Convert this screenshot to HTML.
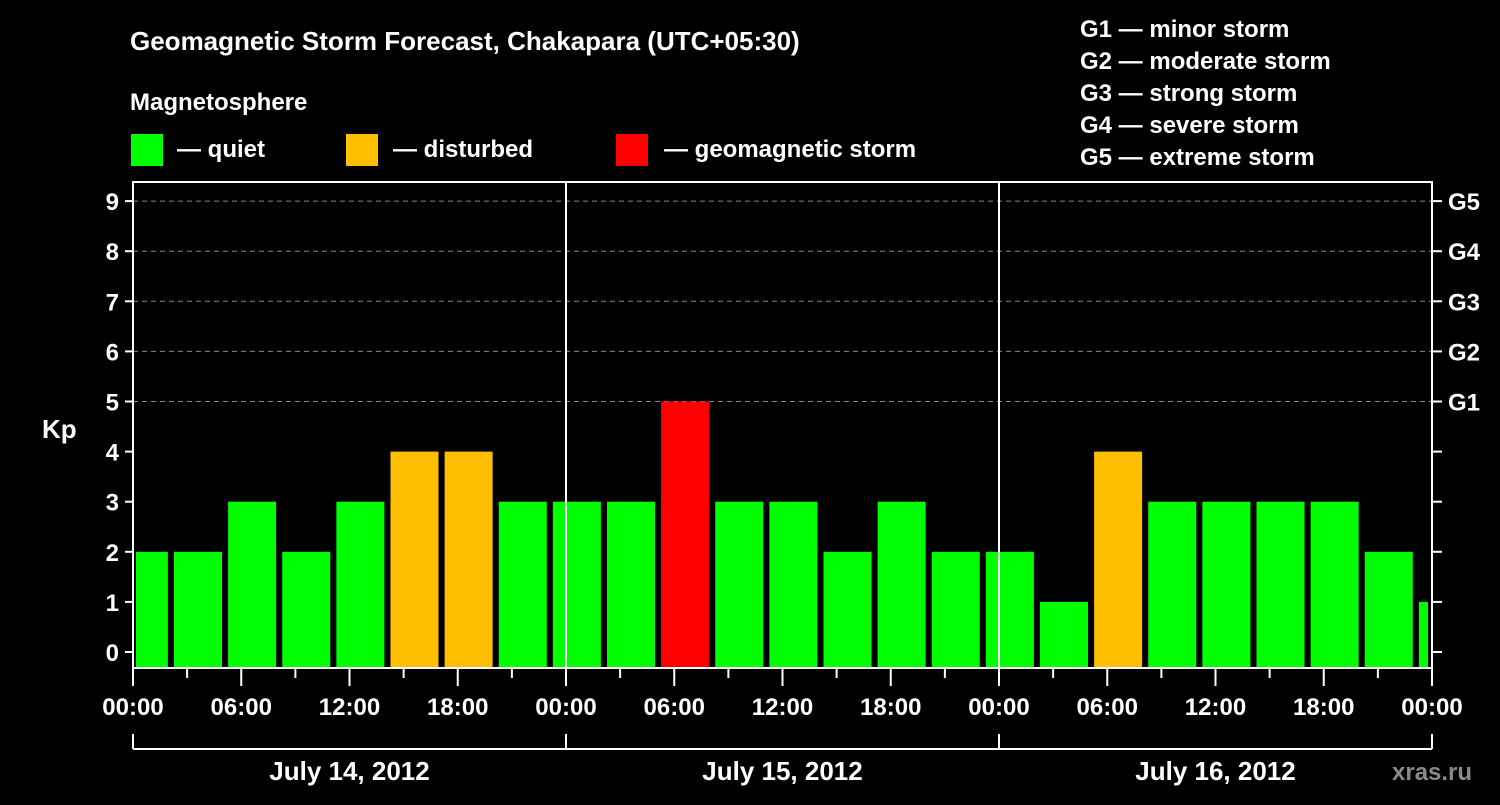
<!DOCTYPE html>
<html><head><meta charset="utf-8"><style>
html,body{margin:0;padding:0;background:#000;}
svg text{font-family:"Liberation Sans",sans-serif;font-weight:bold;fill:#fff;}
</style></head><body>
<svg width="1500" height="800" viewBox="0 0 1500 800" id="chart">
<text x="130" y="50" font-size="26">Geomagnetic Storm Forecast, Chakapara (UTC+05:30)</text>
<text x="130" y="110" font-size="24">Magnetosphere</text>
<g>
<rect x="131" y="134" width="32" height="32" fill="#00ff00"/>
<text x="177" y="157" font-size="24">— quiet</text>
<rect x="346" y="134" width="32" height="32" fill="#ffbf00"/>
<text x="393" y="157" font-size="24">— disturbed</text>
<rect x="616" y="134" width="32" height="32" fill="#ff0000"/>
<text x="664" y="157" font-size="24">— geomagnetic storm</text>
</g>
<g font-size="24">
<text x="1080" y="37">G1 — minor storm</text>
<text x="1080" y="69">G2 — moderate storm</text>
<text x="1080" y="101">G3 — strong storm</text>
<text x="1080" y="133">G4 — severe storm</text>
<text x="1080" y="165">G5 — extreme storm</text>
</g>
<text x="42" y="438" font-size="26">Kp</text>
<text x="1392" y="780" font-size="24" fill="#888" style="fill:#8a8a8a">xras.ru</text>
<g id="plot"></g>
</svg>
<script>
const kpValues=[2,2,3,2,3,4,4,3,3,3,5,3,3,2,3,2,2,1,4,3,3,3,3,2,1];
const yTicks=[0,1,2,3,4,5,6,7,8,9];
const gLabels=["G1","G2","G3","G4","G5"];
const xTickLabels=["00:00","06:00","12:00","18:00","00:00","06:00","12:00","18:00","00:00","06:00","12:00","18:00","00:00"];
const dayLabels=["July 14, 2012","July 15, 2012","July 16, 2012"];

const NS="http://www.w3.org/2000/svg";
const L=133,R=1432,T=182,B=668;
const pxH=(R-L)/72;
const xH=h=>L+h*pxH;
const yK=k=>652-k*50.1;
const g=document.getElementById('plot');
function mk(t,a){const e=document.createElementNS(NS,t);for(const k in a)e.setAttribute(k,a[k]);g.appendChild(e);return e;}
// gridlines
for(let k=5;k<=9;k++){const e=mk('line',{x1:L,x2:R,y1:yK(k),y2:yK(k),stroke:'#888','stroke-dasharray':'5,4','stroke-width':1});

}
// bars
const startH=40/pxH-3;
kpValues.forEach((v,i)=>{
 let x0=xH(startH+3*i)+1,x1=x0+48;
 x0=Math.max(x0,L+3);x1=Math.min(x1,R-4);
 const col=v>=5?'#ff0000':(v>=4?'#ffbf00':'#00ff00');
 const e=mk('rect',{x:x0,y:yK(v),width:x1-x0,height:B-yK(v),fill:col});
 
 
});
// day separators
[1,2].forEach(d=>{const e=mk('line',{x1:xH(24*d),x2:xH(24*d),y1:T,y2:B,stroke:'#fff','stroke-width':2});

});
// frame
const f=mk('rect',{x:L,y:T,width:R-L,height:B-T,fill:'none',stroke:'#fff','stroke-width':2});


// y ticks
yTicks.forEach(k=>{
 const y=yK(k);
 const a=mk('line',{x1:L-8,x2:L,y1:y,y2:y,stroke:'#fff','stroke-width':2});
 
 
 const b=mk('line',{x1:R,x2:R+10,y1:y,y2:y,stroke:'#fff','stroke-width':2});
 
 
 const t=mk('text',{x:L-14,y:y+9,'font-size':24,'text-anchor':'end'});t.textContent=k;
 
 
});
gLabels.forEach((s,i)=>{const t=mk('text',{x:1448,y:yK(5+i)+9,'font-size':24});t.textContent=s;
 
 });
// x ticks
for(let h=0;h<=72;h+=3){const long=h%6===0;
 const e=mk('line',{x1:xH(h),x2:xH(h),y1:B,y2:B+(long?18:10),stroke:'#fff','stroke-width':2});
 
 }
xTickLabels.forEach((s,i)=>{const t=mk('text',{x:xH(6*i),y:715,'font-size':24,'text-anchor':'middle'});t.textContent=s;
 
 });
// day bracket
const br=mk('line',{x1:xH(0),x2:xH(72),y1:749,y2:749,stroke:'#fff','stroke-width':2});


for(let d=0;d<=3;d++){const e=mk('line',{x1:xH(24*d),x2:xH(24*d),y1:734,y2:749,stroke:'#fff','stroke-width':2});
 
 }
dayLabels.forEach((s,i)=>{const t=mk('text',{x:xH(24*i+12),y:780,'font-size':26,'text-anchor':'middle'});t.textContent=s;
 
 });
</script>
</body></html>
